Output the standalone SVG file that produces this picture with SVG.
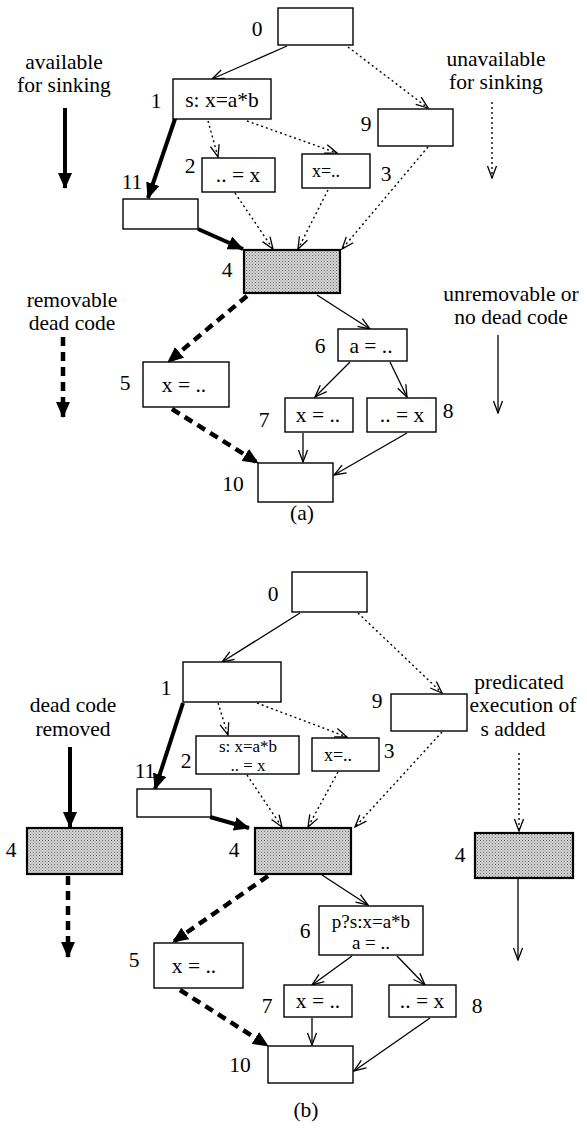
<svg xmlns="http://www.w3.org/2000/svg" width="587" height="1130" viewBox="0 0 587 1130">
<defs>
<style>
text{font-family:"Liberation Serif","Times New Roman",serif;font-size:21.5px;fill:#000}
.c{text-anchor:middle}
.sm{font-size:18px}
.two{font-size:17px}
.box{fill:#fff;stroke:#000;stroke-width:1.4}
.sh{fill:url(#stip);stroke:#000;stroke-width:2.2}
.thin{fill:none;stroke:#000;stroke-width:1.3;marker-end:url(#open)}
.dot{fill:none;stroke:#000;stroke-width:1.4;stroke-dasharray:2 3;marker-end:url(#open)}
.thick{fill:none;stroke:#000;stroke-width:4;marker-end:url(#fill)}
.tdash{fill:none;stroke:#000;stroke-width:4.5;stroke-dasharray:9 6;marker-end:url(#fill)}
</style>
<pattern id="stip" patternUnits="userSpaceOnUse" width="3" height="3">
<rect width="3" height="3" fill="#d6d6d6"/>
<rect x="0" y="0" width="1" height="1" fill="#666"/>
<rect x="1.5" y="1.5" width="1" height="1" fill="#888"/>
</pattern>
<marker id="open" markerUnits="userSpaceOnUse" markerWidth="14" markerHeight="12" viewBox="0 0 14 12" refX="13" refY="6" orient="auto">
<path d="M1,1.5 L13,6 L1,10.5" fill="none" stroke="#000" stroke-width="1.3"/>
</marker>
<marker id="fill" markerUnits="userSpaceOnUse" markerWidth="16" markerHeight="14" viewBox="0 0 16 14" refX="15" refY="7" orient="auto">
<path d="M0,0 L16,7 L0,14 z" fill="#000"/>
</marker>
</defs>

<g id="connectors">
<!-- (a) -->
<line class="thin" x1="287" y1="46" x2="212" y2="79"/>
<line class="dot" x1="348" y1="47" x2="428" y2="108"/>
<line class="thick" x1="176" y1="116" x2="148" y2="198"/>
<line class="dot" x1="208" y1="121" x2="218" y2="157"/>
<line class="dot" x1="247" y1="121" x2="337" y2="153"/>
<line class="thick" x1="198" y1="229" x2="243" y2="249"/>
<line class="dot" x1="235" y1="193" x2="273" y2="249"/>
<line class="dot" x1="328" y1="190" x2="298" y2="249"/>
<line class="dot" x1="428" y1="147" x2="342" y2="249"/>
<line class="tdash" x1="247" y1="296" x2="168" y2="362"/>
<line class="thin" x1="317" y1="295" x2="370" y2="329"/>
<line class="tdash" x1="172" y1="409" x2="258" y2="463"/>
<line class="thin" x1="350" y1="362" x2="315" y2="397"/>
<line class="thin" x1="390" y1="362" x2="407" y2="397"/>
<line class="thin" x1="303" y1="433" x2="303" y2="462"/>
<line class="thin" x1="407" y1="433" x2="334" y2="475"/>
<!-- legend (a) -->
<line class="thick" x1="65" y1="108" x2="65" y2="188"/>
<line class="dot" x1="492" y1="102" x2="492" y2="178"/>
<line class="tdash" x1="63" y1="337" x2="63" y2="417"/>
<line class="thin" x1="498" y1="335" x2="498" y2="413"/>
<!-- (b) -->
<line class="thin" x1="300" y1="613" x2="222" y2="662"/>
<line class="dot" x1="358" y1="613" x2="442" y2="693"/>
<line class="thick" x1="183" y1="703" x2="155" y2="789"/>
<line class="dot" x1="218" y1="703" x2="228" y2="735"/>
<line class="dot" x1="257" y1="703" x2="347" y2="737"/>
<line class="thick" x1="210" y1="817" x2="249" y2="828"/>
<line class="dot" x1="247" y1="775" x2="282" y2="827"/>
<line class="dot" x1="338" y1="772" x2="308" y2="827"/>
<line class="dot" x1="442" y1="732" x2="355" y2="827"/>
<line class="tdash" x1="268" y1="876" x2="173" y2="942"/>
<line class="thin" x1="322" y1="875" x2="368" y2="905"/>
<line class="tdash" x1="180" y1="990" x2="268" y2="1046"/>
<line class="thin" x1="352" y1="956" x2="312" y2="985"/>
<line class="thin" x1="397" y1="956" x2="425" y2="985"/>
<line class="thin" x1="312" y1="1018" x2="312" y2="1045"/>
<line class="thin" x1="430" y1="1018" x2="354" y2="1071"/>
<!-- legend (b) -->
<line class="thick" x1="70" y1="747" x2="70" y2="827"/>
<line class="tdash" x1="68" y1="876" x2="68" y2="957"/>
<line class="dot" x1="519" y1="753" x2="519" y2="831"/>
<line class="thin" x1="518" y1="879" x2="518" y2="960"/>
</g>

<!-- ===== (a) ===== -->
<g id="a-n0"><rect class="box" x="278" y="8" width="75" height="37"/><text x="257" y="36" class="c">0</text></g>
<g id="a-n1"><rect class="box" x="173" y="79" width="98" height="40"/><text x="222" y="107" class="c">s: x=a*b</text><text x="156" y="108" class="c">1</text></g>
<g id="a-n2"><rect class="box" x="202" y="158" width="73" height="34"/><text x="238" y="182" class="c">.. = x</text><text x="190" y="173" class="c">2</text></g>
<g id="a-n3"><rect class="box" x="302" y="154" width="68" height="34"/><text x="326" y="177" class="c sm">x=..</text><text x="386" y="181" class="c">3</text></g>
<g id="a-n9"><rect class="box" x="378" y="109" width="75" height="37"/><text x="366" y="131" class="c">9</text></g>
<g id="a-n11"><rect class="box" x="123" y="199" width="75" height="30"/><text x="132" y="189" class="c">11</text></g>
<g id="a-n4"><rect class="sh" x="244" y="250" width="96" height="43"/><text x="227" y="277" class="c">4</text></g>
<g id="a-n5"><rect class="box" x="143" y="362" width="86" height="45"/><text x="184" y="392" class="c">x = ..</text><text x="125" y="390" class="c">5</text></g>
<g id="a-n6"><rect class="box" x="338" y="329" width="69" height="32"/><text x="371" y="353" class="c">a = ..</text><text x="320" y="353" class="c">6</text></g>
<g id="a-n7"><rect class="box" x="285" y="398" width="68" height="34"/><text x="318" y="422" class="c">x = ..</text><text x="264" y="427" class="c">7</text></g>
<g id="a-n8"><rect class="box" x="367" y="398" width="69" height="34"/><text x="402" y="422" class="c">.. = x</text><text x="448" y="418" class="c">8</text></g>
<g id="a-n10"><rect class="box" x="258" y="463" width="75" height="39"/><text x="233" y="491" class="c">10</text></g>
<g id="a-legend">
<text x="64" y="69" class="c">available</text><text x="64" y="92" class="c">for sinking</text>
<text x="496" y="66" class="c">unavailable</text><text x="496" y="89" class="c">for sinking</text>
<text x="72" y="307" class="c">removable</text><text x="72" y="330" class="c">dead code</text>
<text x="511" y="301" class="c">unremovable or</text><text x="511" y="324" class="c">no dead code</text>
<text x="302" y="520" class="c">(a)</text>
</g>

<!-- ===== (b) ===== -->
<g id="b-n0"><rect class="box" x="292" y="572" width="75" height="40"/><text x="273" y="601" class="c">0</text></g>
<g id="b-n1"><rect class="box" x="183" y="662" width="98" height="40"/><text x="166" y="695" class="c">1</text></g>
<g id="b-n2"><rect class="box" x="196" y="736" width="103" height="38"/><text x="248" y="752" class="c two">s: x=a*b</text><text x="248" y="771" class="c two">.. = x</text><text x="186" y="768" class="c">2</text></g>
<g id="b-n3"><rect class="box" x="312" y="738" width="67" height="33"/><text x="338" y="761" class="c sm">x=..</text><text x="389" y="758" class="c">3</text></g>
<g id="b-n9"><rect class="box" x="391" y="694" width="76" height="37"/><text x="377" y="708" class="c">9</text></g>
<g id="b-n11"><rect class="box" x="137" y="789" width="74" height="28"/><text x="145" y="778" class="c">11</text></g>
<g id="b-n4"><rect class="sh" x="255" y="828" width="96" height="46"/><text x="234" y="857" class="c">4</text></g>
<g id="b-n5"><rect class="box" x="154" y="943" width="89" height="45"/><text x="194" y="973" class="c">x = ..</text><text x="134" y="967" class="c">5</text></g>
<g id="b-n6"><rect class="box" x="319" y="906" width="104" height="49"/><text x="371" y="928" class="c" style="font-size:19px">p?s:x=a*b</text><text x="371" y="949" class="c" style="font-size:19px">a = ..</text><text x="305" y="938" class="c">6</text></g>
<g id="b-n7"><rect class="box" x="284" y="985" width="68" height="32"/><text x="318" y="1008" class="c">x = ..</text><text x="267" y="1013" class="c">7</text></g>
<g id="b-n8"><rect class="box" x="389" y="985" width="67" height="32"/><text x="422" y="1008" class="c">.. = x</text><text x="477" y="1013" class="c">8</text></g>
<g id="b-n10"><rect class="box" x="268" y="1046" width="85" height="37"/><text x="240" y="1072" class="c">10</text></g>
<g id="b-n4left"><rect class="sh" x="27" y="828" width="95" height="46"/><text x="11" y="857" class="c">4</text></g>
<g id="b-n4right"><rect class="sh" x="475" y="833" width="98" height="45"/><text x="460" y="862" class="c">4</text></g>
<g id="b-legend">
<text x="73" y="712" class="c">dead code</text><text x="73" y="736" class="c">removed</text>
<text x="519" y="689" class="c">predicated</text><text x="523" y="712" class="c">execution of</text><text x="513" y="736" class="c">s added</text>
<text x="306" y="1117" class="c">(b)</text>
</g>
</svg>
